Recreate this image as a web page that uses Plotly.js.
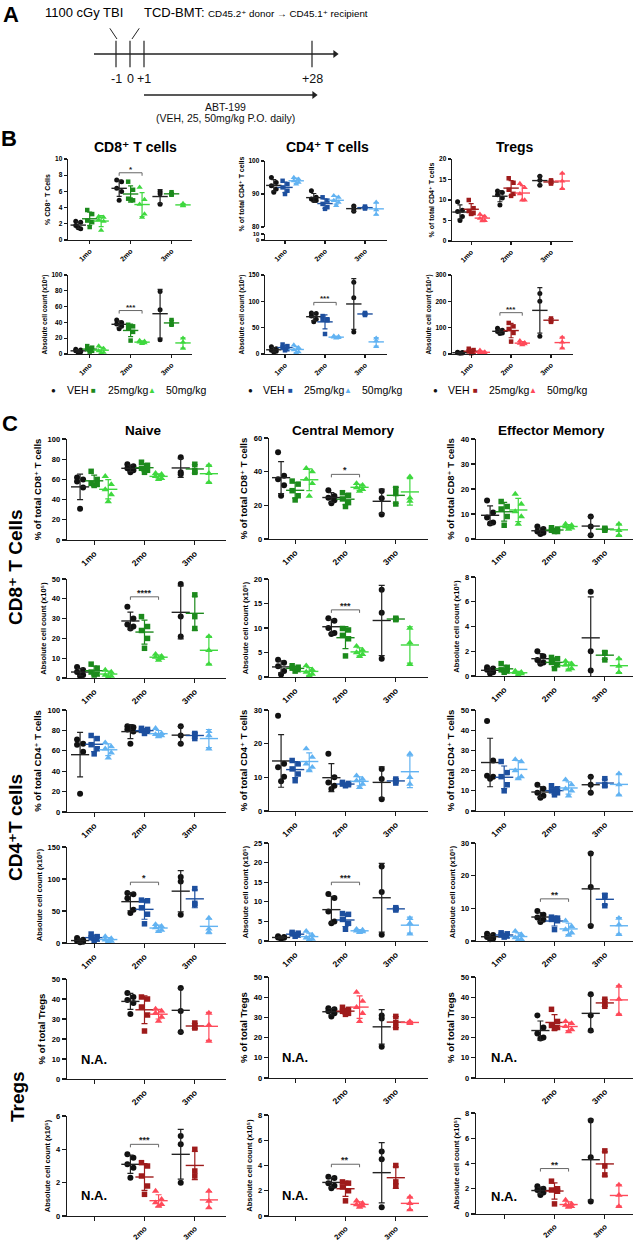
<!DOCTYPE html>
<html>
<head>
<meta charset="utf-8">
<script src="https://cdn.plot.ly/plotly-3.0.1.min.js"></script>
<style>html,body{margin:0;padding:0;background:#fff}#chart{width:633px;height:1245px}</style>
</head>
<body>
<div id="chart"></div>
<script>
// ================= DATA =================
const months = ['1mo', '2mo', '3mo'];
const tregMonths = ['', '2mo', '3mo'];
const doses = ['VEH', '25mg/kg', '50mg/kg'];
const timelineLabels = ['-1', '0', '+1', '+28'];
const timelinePos = [-1, 0, 1, 13]; // schematic day positions (not to scale)

// Each array: [month][dose] -> individual animals
const bCD8pct = [
  [[2.3, 2.2, 1.8, 1.4, 1.5], [3.7, 3.2, 2.4, 2.2, 1.6], [2.9, 2.8, 2.5, 2.3, 1.2]],
  [[7.4, 7.2, 6.4, 6.0, 4.9], [7.2, 6.2, 5.1, 4.9, 5.0], [6.5, 5.0, 4.4, 3.2, 2.8]],
  [[6.0, 5.7, 4.4], [5.9, 5.6, 5.6], [4.5, 4.2, 4.3]]
];
const bCD4pct = [
  [[95, 93.5, 92.5, 91.5, 90.5], [94, 93, 92, 91, 90], [95, 94.5, 94, 93.5, 93]],
  [[91, 89, 88.5, 88, 88], [89, 88, 87, 86, 85.5], [89.5, 89, 88, 87.5, 86.5]],
  [[86.4, 85.5, 84.8], [86.2, 85.8, 85.6], [87.5, 85.2, 83.8]]
];
const bTregPct = [
  [[9.6, 7.5, 7.2, 6.0, 5.0], [10.0, 8.0, 7.3, 6.8, 6.6], [6.5, 6.0, 5.5, 5.0, 4.9]],
  [[12.2, 11.8, 11.3, 10.5, 8.8], [15.3, 14.2, 12.5, 11.5, 11.0], [14.0, 13.0, 11.5, 10.0, 10.0]],
  [[15.8, 14.8, 13.6], [14.8, 14.4, 14.0], [16.5, 14.6, 12.8]]
];
const bCD8abs = [
  [[6, 5, 4, 3, 2], [10, 8, 6, 4, 3], [10, 7, 4, 2, 1]],
  [[43, 40, 38, 35, 32], [37, 35, 32, 28, 17], [17, 16, 15, 14, 13]],
  [[79, 56, 18], [43, 38, 37], [20, 15, 7]]
];
const bCD4abs = [
  [[14, 10, 7, 5, 4], [18, 15, 12, 9, 7], [17, 12, 8, 4, 2]],
  [[78, 77, 72, 66, 61], [72, 66, 65, 64, 38], [34, 33, 32, 31, 30]],
  [[136, 107, 42], [78, 76, 74], [30, 25, 14]]
];
const bTregAbs = [
  [[7, 6, 5, 4, 3], [20, 15, 10, 5, 3], [14, 8, 5, 3, 2]],
  [[98, 90, 85, 80, 78], [118, 105, 95, 80, 47], [50, 43, 40, 38, 35]],
  [[230, 200, 67], [135, 128, 122], [63, 45, 22]]
];

const cCD8naivePct = [
  [[62, 60, 58, 52, 31], [68, 60, 56, 55, 54], [63, 55, 50, 45, 38]],
  [[75, 73, 71, 69, 67], [77, 74, 71, 69, 67], [66, 65, 63, 61, 60]],
  [[82, 67, 65], [75, 69, 67], [74, 66, 57]]
];
const cCD8cmPct = [
  [[51.5, 37.5, 35.5, 32, 25.7], [34.4, 32.6, 28.7, 25.7, 23.2], [42, 40, 35.5, 33, 25.5]],
  [[29, 25.5, 24.5, 23, 21.2], [27.5, 26, 23.8, 21.6, 19.3], [33, 32, 30.5, 29.5, 28.5]],
  [[28.5, 24.2, 14.5], [30, 27, 20.8], [37, 24.4, 22.5]]
];
const cCD8emPct = [
  [[15.4, 10.6, 8.6, 6.6, 6.2], [15, 13, 12, 9, 5.5], [18, 14, 11, 9, 6]],
  [[5, 4, 3, 2.5, 2], [4.5, 4, 3.5, 3, 3], [6, 5.5, 5, 4.5, 4]],
  [[9, 5, 1.5], [4.3, 4, 3.5], [6, 3.5, 1.5]]
];
const cCD8naiveAbs = [
  [[5.6, 4, 3, 1.5, 1], [7, 5, 3, 2, 1.5], [4, 3, 1.5, 1, 0.5]],
  [[36, 30, 27, 26, 25], [31, 26, 24, 20, 15], [12, 11, 10.5, 10, 9]],
  [[47.5, 31, 21], [42, 31, 25], [21, 14, 7]]
];
const cCD8cmAbs = [
  [[3.5, 2.9, 2.2, 1.2, 0.5], [2.3, 2, 1.8, 1.5, 1.2], [2.3, 1.5, 1, 0.6, 0.3]],
  [[12, 11.5, 10, 9, 8.8], [9.9, 9.6, 8.5, 7.8, 4.3], [6.3, 5.5, 5, 4.6, 4.2]],
  [[17.8, 13.1, 3.7], [12, 11.8, 11.7], [10, 7, 2.6]]
];
const cCD8emAbs = [
  [[0.7, 0.6, 0.5, 0.3, 0.2], [1.0, 0.7, 0.5, 0.4, 0.3], [0.4, 0.3, 0.3, 0.2, 0.1]],
  [[2.0, 1.6, 1.3, 1.1, 1.0], [1.5, 1.4, 1.1, 0.9, 0.6], [1.2, 1.0, 0.9, 0.6, 0.5]],
  [[6.8, 2.0, 0.45], [1.9, 1.85, 1.3], [1.4, 0.8, 0.3]]
];
const cCD4naivePct = [
  [[71, 67, 66, 59, 18], [75, 72, 66, 62, 57], [68, 64, 62, 58, 53]],
  [[84, 83, 81, 79, 67], [82, 81, 80, 79, 77], [82, 77, 76, 75, 74]],
  [[84, 75, 67], [77, 76, 72], [79, 75, 62]]
];
const cCD4cmPct = [
  [[28.3, 14, 13, 10.2, 8.8], [15, 14, 12.5, 11, 9], [18.5, 16, 14, 13, 12]],
  [[17, 10, 8.5, 7.5, 6.5], [8.5, 8.2, 8, 7.8, 7.5], [10.5, 9.5, 9, 8, 7]],
  [[12.5, 9.5, 3.5], [9.5, 9, 8.3], [17, 10, 8]]
];
const cCD4emPct = [
  [[44.5, 25, 17.5, 17, 16], [24.5, 19, 17, 13, 10], [25.5, 24.5, 20, 17, 16]],
  [[13, 11, 9, 7.5, 6.5], [12.5, 11, 10, 9, 8], [15.5, 13, 11, 10, 7.5]],
  [[17, 13, 9], [16, 13, 12.5], [18.5, 13, 8]]
];
const cCD4naiveAbs = [
  [[8, 5, 3, 2, 1], [14, 10, 8, 6, 4], [10, 7, 5, 3, 2]],
  [[78, 76, 70, 52, 47], [67, 66, 55, 45, 30], [29, 26, 24, 20, 18]],
  [[103, 96, 44], [85, 62, 60], [39, 22, 17]]
];
const cCD4cmAbs = [
  [[1.2, 1, 0.9, 0.8, 0.6], [2.2, 2, 1.8, 1.5, 1.2], [2.5, 1.5, 0.8, 0.5, 0.3]],
  [[12, 11, 7.5, 5, 4.5], [7, 6.8, 5.5, 4.5, 3], [3, 2.8, 2.6, 2.4, 2.2]],
  [[19, 12.5, 1.6], [8.5, 8.2, 7.9], [5.8, 4.5, 1.8]]
];
const cCD4emAbs = [
  [[2.2, 1.8, 1.2, 0.8, 0.5], [2.5, 2.2, 1.8, 1.5, 1.2], [3, 2, 1, 0.5, 0.3]],
  [[9.2, 8, 7.2, 6.5, 5.8], [7.3, 7, 6.6, 6.2, 3.5], [6.2, 4.5, 3.5, 2.5, 1.8]],
  [[26.8, 16.5, 4.6], [14, 13.5, 10.8], [7, 5, 2]]
];
const cTregNaivePct = [
  [[], [], []],
  [[43, 41, 39.5, 38, 32.5], [41, 40, 36, 32, 24], [35, 34, 33, 31, 29]],
  [[45.5, 34, 23.5], [28, 26, 25.5], [33, 27, 19]]
];
const cTregCmPct = [
  [[], [], []],
  [[34.5, 34, 33, 32, 30.5], [35, 34, 33, 32, 31.5], [42.5, 38, 35, 32, 28]],
  [[31, 29.5, 15.5], [30.5, 27.5, 25], [28, 27.5, 27]]
];
const cTregEmPct = [
  [[], [], []],
  [[31, 25, 22, 20, 19.5], [34, 28, 26, 25, 24.5], [28, 27, 25.5, 24, 23]],
  [[41.5, 31, 23.5], [39, 37, 35.5], [45.5, 39, 31.5]]
];
const cTregNaiveAbs = [
  [[], [], []],
  [[3.7, 3.5, 3.1, 2.9, 2.3], [3.2, 3.0, 2.4, 1.8, 1.3], [1.5, 1.0, 0.8, 0.7, 0.6]],
  [[4.8, 4.3, 2.0], [4.0, 2.7, 2.4], [1.5, 0.9, 0.5]]
];
const cTregCmAbs = [
  [[], [], []],
  [[3.1, 3.0, 2.6, 2.4, 2.2], [2.7, 2.6, 2.3, 2.0, 1.2], [1.2, 1.0, 0.9, 0.8, 0.7]],
  [[5.1, 4.5, 0.7], [4.0, 2.7, 2.4], [1.5, 1.0, 0.5]]
];
const cTregEmAbs = [
  [[], [], []],
  [[2.2, 2.0, 1.9, 1.7, 1.5], [2.6, 2.0, 1.9, 1.8, 0.8], [1.1, 0.8, 0.7, 0.6, 0.55]],
  [[7.4, 4.5, 1.0], [5.0, 3.8, 3.1], [2.3, 1.5, 0.6]]
];

// ================= STYLE / LAYOUT =================
const W = 633, H = 1245;
const palettes = [
  ['#111111', '#1c8a1c', '#3fd83f'],
  ['#111111', '#1d4f9e', '#62b3f2'],
  ['#111111', '#9e1b1b', '#ff4a5a']
];
const symbols = ['circle', 'square', 'triangle-up'];
const groupOff = [-0.28, 0, 0.28];
const spread = [-0.06, 0.06, -0.06, 0.06, 0];
const FONT = '"Liberation Sans", Arial, Helvetica, "DejaVu Sans", sans-serif';

const PCT8c = '% of total CD8\u207A T cells';
const PCT4c = '% of total CD4\u207A T cells';
const PCTT = '% of total Tregs';
const ABS5 = 'Absolute cell count (x10\u2075)';
const ABS4 = 'Absolute cell count (x10\u2074)';

const bx = [[68, 192, -0.53, 2.5], [265, 387, -0.5, 2.55], [452, 573, -0.48, 2.55]];
const cx = [[67, 226, -0.54, 2.62], [269, 428, -0.52, 2.64], [476, 633, -0.56, 2.56]];

const panels = [
  {d: bCD8pct, pal: 0, c: bx[0], y: [159, 240], yr: [0, 10], dt: 2, t: '% CD8\u207A T Cells', ts: 7, b: true, sig: [8.3, '*']},
  {d: bCD4pct, pal: 1, c: bx[1], y: [161, 227], yr: [80, 100], dt: 10, t: '% of total CD4\u207A T cells', ts: 7, b: true, brk: {y: [234, 240], yr: [0, 10]}},
  {d: bTregPct, pal: 2, c: bx[2], y: [159, 241], yr: [0, 20], dt: 5, t: '% of total CD4\u207A T cells', ts: 7, b: true},
  {d: bCD8abs, pal: 0, c: bx[0], y: [275, 354], yr: [0, 100], dt: 20, t: ABS5, ts: 6.5, b: true, sig: [55, '***']},
  {d: bCD4abs, pal: 1, c: bx[1], y: [275, 354], yr: [0, 150], dt: 50, t: ABS5, ts: 6.5, b: true, sig: [98, '***']},
  {d: bTregAbs, pal: 2, c: bx[2], y: [275, 354], yr: [0, 300], dt: 100, t: ABS4, ts: 6.5, b: true, sig: [157, '***']},

  {d: cCD8naivePct, pal: 0, c: cx[0], y: [439, 540], yr: [0, 100], dt: 20, t: PCT8c, ts: 9.5},
  {d: cCD8cmPct, pal: 0, c: cx[1], y: [438, 539], yr: [0, 60], dt: 20, t: PCT8c, ts: 9.5, sig: [38.4, '*']},
  {d: cCD8emPct, pal: 0, c: cx[2], y: [439, 539], yr: [0, 40], dt: 10, t: PCT8c, ts: 9.5},
  {d: cCD8naiveAbs, pal: 0, c: cx[0], y: [579, 678], yr: [0, 50], dt: 10, t: ABS5, ts: 7.5, sig: [41, '****']},
  {d: cCD8cmAbs, pal: 0, c: cx[1], y: [579, 677], yr: [0, 20], dt: 5, t: ABS5, ts: 7.5, sig: [13.7, '***']},
  {d: cCD8emAbs, pal: 0, c: cx[2], y: [577, 676], yr: [0, 8], dt: 2, t: ABS5, ts: 7.5},
  {d: cCD4naivePct, pal: 1, c: cx[0], y: [710, 812], yr: [0, 100], dt: 20, t: PCT4c, ts: 9.5},
  {d: cCD4cmPct, pal: 1, c: cx[1], y: [710, 811], yr: [0, 30], dt: 10, t: PCT4c, ts: 9.5},
  {d: cCD4emPct, pal: 1, c: cx[2], y: [710, 811], yr: [0, 50], dt: 10, t: PCT4c, ts: 9.5},
  {d: cCD4naiveAbs, pal: 1, c: cx[0], y: [847, 943], yr: [0, 150], dt: 50, t: ABS5, ts: 7.5, sig: [95, '*']},
  {d: cCD4cmAbs, pal: 1, c: cx[1], y: [843, 941], yr: [0, 25], dt: 5, t: ABS5, ts: 7.5, sig: [15, '***']},
  {d: cCD4emAbs, pal: 1, c: cx[2], y: [843, 941], yr: [0, 30], dt: 10, t: ABS5, ts: 7.5, sig: [12.9, '**']},
  {d: cTregNaivePct, pal: 2, c: cx[0], y: [979, 1079], yr: [0, 50], dt: 10, t: PCTT, ts: 9.5, na: 10, treg: true},
  {d: cTregCmPct, pal: 2, c: cx[1], y: [977, 1078], yr: [0, 50], dt: 10, t: PCTT, ts: 9.5, na: 10, treg: true},
  {d: cTregEmPct, pal: 2, c: cx[2], y: [977, 1078], yr: [0, 50], dt: 10, t: PCTT, ts: 9.5, na: 10, treg: true},
  {d: cTregNaiveAbs, pal: 2, c: cx[0], y: [1116, 1216], yr: [0, 6], dt: 2, t: ABS5, ts: 7.5, sig: [4.3, '***'], na: 1.25, treg: true, xs: 7.5},
  {d: cTregCmAbs, pal: 2, c: cx[1], y: [1115, 1216], yr: [0, 8], dt: 2, t: ABS5, ts: 7.5, sig: [4.1, '**'], na: 1.65, treg: true, xs: 7.5},
  {d: cTregEmAbs, pal: 2, c: cx[2], y: [1113, 1214], yr: [0, 8], dt: 2, t: ABS5, ts: 7.5, sig: [3.6, '**'], na: 1.35, treg: true, xs: 7.5}
];

const layout = {
  width: W, height: H,
  margin: {l: 0, r: 0, t: 0, b: 0, pad: 0},
  showlegend: false,
  paper_bgcolor: '#ffffff', plot_bgcolor: 'rgba(0,0,0,0)',
  font: {family: FONT, color: '#000', size: 10},
  shapes: [], annotations: []
};
const traces = [];

function meanSd(a) {
  const n = a.length;
  const m = a.reduce((s, v) => s + v, 0) / n;
  const sd = n > 1 ? Math.sqrt(a.reduce((s, v) => s + (v - m) * (v - m), 0) / (n - 1)) : 0;
  return [m, sd];
}
function axBase(b) {
  return {showline: true, linewidth: 1.4, linecolor: '#1a1a1a', ticks: 'outside',
    ticklen: b ? 3 : 4, tickwidth: 1.3, tickcolor: '#1a1a1a', showgrid: false,
    zeroline: false, fixedrange: true};
}
let xi = 0, yi = 0;
function nm(n) { return n === 1 ? '' : String(n); }

panels.forEach(p => {
  xi++; yi++;
  const xn = xi, yn = yi;
  const xr = 'x' + nm(xn), yr = 'y' + nm(yn);
  const b = !!p.b;
  let xAnchor = yr;
  if (p.brk) {
    yi++;
    const yb = 'y' + nm(yi);
    layout['yaxis' + nm(yi)] = Object.assign(axBase(b), {
      domain: [1 - p.brk.y[1] / H, 1 - p.brk.y[0] / H], range: p.brk.yr, anchor: xr,
      tickvals: [0, 10], ticktext: ['0', '10'], tickfont: {size: 6, weight: 'bold'}
    });
    traces.push({type: 'scatter', mode: 'markers', x: [], y: [], xaxis: xr, yaxis: yb, hoverinfo: 'skip'});
    xAnchor = yb;
  }
  layout['xaxis' + nm(xn)] = Object.assign(axBase(b), {
    domain: [p.c[0] / W, p.c[1] / W], range: [p.c[2], p.c[3]], anchor: xAnchor,
    tickvals: [0, 1, 2], ticktext: p.treg ? tregMonths : months, tickangle: -45,
    tickfont: {size: p.xs || (b ? 7 : 8.5), weight: 'bold'}
  });
  layout['yaxis' + nm(yn)] = Object.assign(axBase(b), {
    domain: [1 - p.y[1] / H, 1 - p.y[0] / H], range: p.yr, anchor: xr,
    tick0: 0, dtick: p.dt, tickfont: {size: b ? 6.5 : 7.5, weight: 'bold'},
    title: {text: p.t, font: {size: p.ts, weight: 'bold'}, standoff: b ? 3 : 4}
  });

  const pal = palettes[p.pal];
  for (let d = 0; d < 3; d++) {
    const xs = [], ys = [], mx = [], my = [], msd = [];
    p.d.forEach((grp, m) => {
      const vals = grp[d];
      if (!vals.length) return;
      vals.forEach((v, i) => {
        xs.push(m + groupOff[d] + (vals.length > 3 ? spread[i % spread.length] : 0));
        ys.push(v);
      });
      const [mean, sd] = meanSd(vals);
      mx.push(m + groupOff[d]); my.push(mean); msd.push(sd);
    });
    const col = pal[d];
    const ecol = d === 0 ? '#222222' : col;
    const sizes = b ? [5, 4.5, 5.5] : [6, 5.5, 6.5];
    traces.push({
      type: 'scatter', mode: 'markers', x: xs, y: ys, xaxis: xr, yaxis: yr,
      marker: {symbol: symbols[d], size: sizes[d], color: col, line: {width: 0}},
      cliponaxis: false, hoverinfo: 'skip', showlegend: false
    });
    traces.push({
      type: 'scatter', mode: 'markers', x: mx, y: my, xaxis: xr, yaxis: yr,
      marker: {symbol: 'line-ew', size: b ? 11 : 13, color: ecol, line: {width: 1.4, color: ecol}},
      error_y: {type: 'data', array: msd, visible: true, color: ecol, thickness: 1.2, width: b ? 2.5 : 3},
      cliponaxis: false, hoverinfo: 'skip', showlegend: false
    });
  }

  if (p.sig) {
    const yv = p.sig[0];
    const dy = 3 * (p.yr[1] - p.yr[0]) / (p.y[1] - p.y[0]);
    const x0 = 1 + groupOff[0], x1 = 1 + groupOff[2];
    layout.shapes.push({type: 'path', xref: xr, yref: yr,
      path: 'M ' + x0 + ',' + (yv - dy) + ' L ' + x0 + ',' + yv + ' L ' + x1 + ',' + yv + ' L ' + x1 + ',' + (yv - dy),
      line: {color: '#666', width: 1}});
    layout.annotations.push({xref: xr, yref: yr, x: 1, y: yv, text: p.sig[1], showarrow: false,
      yanchor: 'bottom', yshift: -3, font: {size: b ? 8 : 9, color: '#222', weight: 'bold'}});
  }
  if (p.na !== undefined) {
    layout.annotations.push({xref: xr, yref: yr, x: 0, y: p.na, text: 'N.A.', showarrow: false,
      font: {size: 13, color: '#000', weight: 'bold'}});
  }
});

// ---------- Panel A timeline ----------
xi++; yi++;
const tx = 'x' + nm(xi), ty = 'y' + nm(yi);
layout['xaxis' + nm(xi)] = {domain: [90 / W, 345 / W], range: [-2.857, 15.357], visible: false, fixedrange: true, anchor: ty};
layout['yaxis' + nm(yi)] = {domain: [1 - 126 / H, 1 - 20 / H], range: [-7.2, 3.4], visible: false, fixedrange: true, anchor: tx};
traces.push({type: 'scatter', mode: 'markers', x: timelinePos, y: timelinePos.map(() => 0), xaxis: tx, yaxis: ty,
  marker: {symbol: 'line-ns', size: 19, color: '#222', line: {width: 1.2, color: '#222'}}, hoverinfo: 'skip', cliponaxis: false});
traces.push({type: 'scatter', mode: 'lines', x: [-2.571, 14.7], y: [0, 0], xaxis: tx, yaxis: ty,
  line: {color: '#222', width: 1.3}, hoverinfo: 'skip'});
traces.push({type: 'scatter', mode: 'lines', x: [1, 13.2], y: [-4.1, -4.1], xaxis: tx, yaxis: ty,
  line: {color: '#222', width: 1.3}, hoverinfo: 'skip'});
traces.push({type: 'scatter', mode: 'markers', x: [14.65, 13.15], y: [0, -4.1], xaxis: tx, yaxis: ty,
  marker: {symbol: 'triangle-right', size: 7, color: '#222'}, hoverinfo: 'skip', cliponaxis: false});
timelinePos.forEach((pos, i) => {
  layout.annotations.push({xref: tx, yref: ty, x: pos, y: -2.5, text: timelineLabels[i], showarrow: false,
    font: {size: 12.5, color: '#111'}});
});
layout.shapes.push({type: 'line', xref: tx, yref: ty, x0: -1.44, y0: 2.57, x1: -0.93, y1: 1.5, line: {color: '#222', width: 1}});
layout.shapes.push({type: 'line', xref: tx, yref: ty, x0: 0.66, y0: 2.57, x1: 0.14, y1: 1.5, line: {color: '#222', width: 1}});
layout.annotations.push({xref: tx, yref: ty, x: 6.8, y: -5.3, text: 'ABT-199', showarrow: false, font: {size: 10.5, color: '#111'}});
layout.annotations.push({xref: tx, yref: ty, x: 6.8, y: -6.4, text: '(VEH, 25, 50mg/kg P.O. daily)', showarrow: false, font: {size: 10.5, color: '#111'}});

// ---------- paper-level texts ----------
function paperText(x, y, text, size, extra) {
  layout.annotations.push(Object.assign({xref: 'paper', yref: 'paper', x: x / W, y: 1 - y / H, text: text,
    showarrow: false, font: {size: size, color: '#000'}, xanchor: 'center', yanchor: 'middle'}, extra || {}));
}
function boldText(x, y, text, size, extra) {
  paperText(x, y, text, size, Object.assign({font: {size: size, color: '#000', weight: 'bold'}}, extra || {}));
}
boldText(11, 14, 'A', 22);
boldText(9, 139, 'B', 22);
boldText(10, 424, 'C', 22);
paperText(84, 13, '1100 cGy TBI', 13);
paperText(142, 13, 'TCD-BMT:', 13, {xanchor: 'left'});
paperText(206, 13.5, 'CD45.2\u207A donor \u2192 CD45.1\u207A recipient', 9.8, {xanchor: 'left'});

boldText(135, 147, 'CD8\u207A T cells', 14);
boldText(328, 147, 'CD4\u207A T cells', 14);
boldText(515, 147, 'Tregs', 14);
boldText(143, 431, 'Naive', 13.5);
boldText(343, 431, 'Central Memory', 13.5);
boldText(551, 431, 'Effector Memory', 13.5);
boldText(15, 567, 'CD8\u207A T Cells', 19, {textangle: -90});
boldText(15, 828, 'CD4\u207AT cells', 19, {textangle: -90});
boldText(17, 1097, 'Tregs', 19, {textangle: -90});

// ---------- legends (panel B) ----------
const legendBase = [53.7, 250, 435];
const legendSymX = [0, 40, 98];
const legendTxtX = [11, 52, 110];
const legendGlyph = ['\u25CF', '\u25A0', '\u25B2'];
legendBase.forEach((bx0, col) => {
  doses.forEach((name, d) => {
    paperText(bx0 + legendSymX[d], 390, legendGlyph[d], 8, {font: {size: 8, color: palettes[col][d]}});
    paperText(bx0 + legendTxtX[d], 390, name, 10.5, {xanchor: 'left'});
  });
});

Plotly.newPlot('chart', traces, layout, {staticPlot: true, displayModeBar: false});
</script>
</body>
</html>
